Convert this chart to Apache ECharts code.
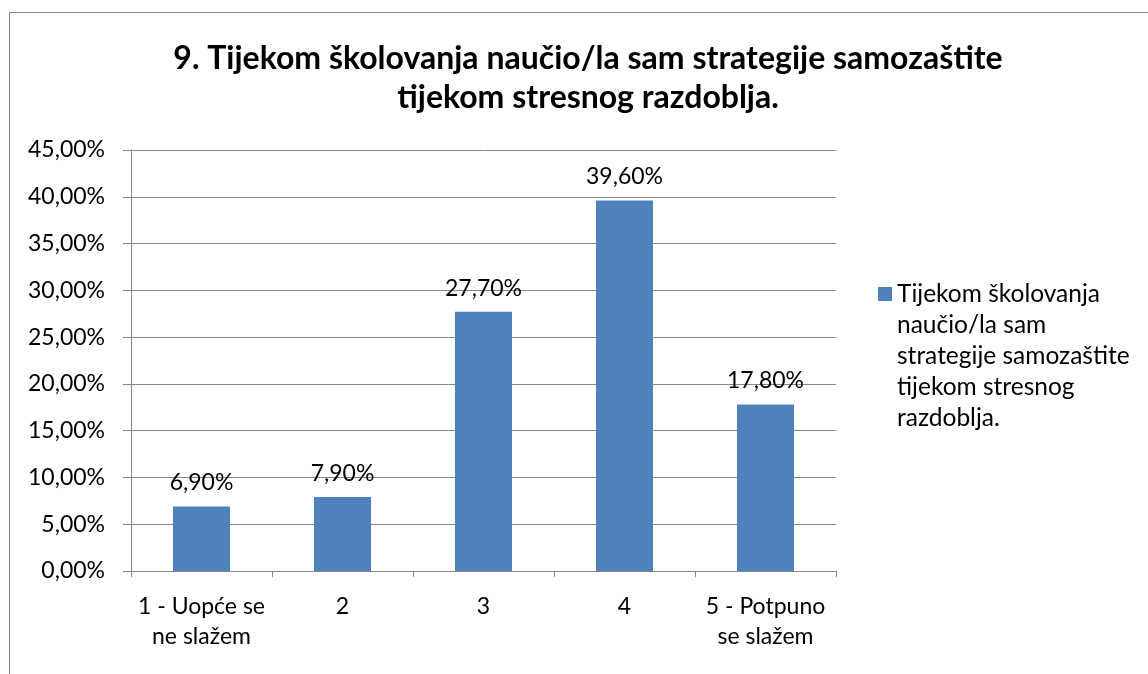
<!DOCTYPE html>
<html>
<head>
<meta charset="utf-8">
<script src="https://cdn.jsdelivr.net/npm/echarts@6/dist/echarts.min.js"></script>
<style>
html, body { margin: 0; padding: 0; background: #fff; }
#chart { width: 1148px; height: 674px; }
</style>
</head>
<body>
<div id="chart"></div>
<script>
var categories = ['1 - Uopće se\nne slažem', '2', '3', '4', '5 - Potpuno\nse slažem'];
var values = [6.9, 7.9, 27.7, 39.6, 17.8];
var seriesName = 'Tijekom školovanja naučio/la sam strategije samozaštite tijekom stresnog razdoblja.';
// legend text wrapped as in the picture; 4 empty lines up front keep the square next to line 1
var legendLines = ['Tijekom školovanja', 'naučio/la sam', 'strategije samozaštite', 'tijekom stresnog', 'razdoblja.'];
var titleText = '9. Tijekom školovanja naučio/la sam strategije samozaštite\ntijekom stresnog razdoblja.';

function pct(v) {
	return v.toFixed(2).replace('.', ',') + '%';
}

var myChart = echarts.init(document.getElementById('chart'));
var font = 'Lato';
var legendLH = 31;

var option = {
	animation: false,
	textStyle: { fontFamily: font },
	title: {
		text: titleText,
		left: 583,
		textAlign: 'center',
		top: 34,
		textStyle: {
			fontFamily: font,
			fontSize: 32,
			fontWeight: 'bold',
			color: '#000',
			lineHeight: 39
		}
	},
	legend: {
		left: 878,
		top: 294 - legendLH * 4.5,
		padding: 0,
		itemWidth: 14,
		itemHeight: 14,
		icon: 'rect',
		formatter: function() { return '\n\n\n\n' + legendLines.join('\n'); },
		textStyle: {
			fontFamily: font,
			fontSize: 24.5,
			lineHeight: legendLH,
			color: '#000'
		},
		data: [seriesName]
	},
	graphic: [
		{ type: 'line', shape: { x1: 9.5, y1: 12.5, x2: 1148, y2: 12.5 }, style: { stroke: '#868686', lineWidth: 1 } },
		{ type: 'line', shape: { x1: 9.5, y1: 12.5, x2: 9.5, y2: 674 }, style: { stroke: '#868686', lineWidth: 1 } }
	],
	grid: {
		left: 131,
		right: 312,
		top: 150,
		bottom: 103,
		containLabel: false
	},
	xAxis: {
		type: 'category',
		data: categories,
		axisLine: { lineStyle: { color: '#868686', width: 1 } },
		axisTick: { show: true, length: 6, alignWithLabel: false, lineStyle: { color: '#868686' } },
		axisLabel: {
			fontFamily: font,
			fontSize: 23,
			lineHeight: 30,
			color: '#000',
			margin: 21,
			interval: 0
		}
	},
	yAxis: {
		type: 'value',
		min: 0,
		max: 45,
		interval: 5,
		axisLine: { show: true, lineStyle: { color: '#868686', width: 1 } },
		axisTick: { show: true, length: 8, inside: false, lineStyle: { color: '#868686' } },
		splitLine: { lineStyle: { color: '#868686', width: 1 } },
		axisLabel: {
			fontFamily: font,
			fontSize: 23,
			color: '#000',
			margin: 26,
			formatter: function(v) { return pct(v); }
		}
	},
	series: [{
		name: seriesName,
		type: 'bar',
		data: values,
		barWidth: 57,
		itemStyle: { color: '#4F81BD' },
		label: {
			show: true,
			position: 'top',
			distance: 12,
			fontFamily: font,
			fontSize: 23,
			color: '#000',
			formatter: function(p) { return pct(p.value); }
		}
	}]
};

myChart.setOption(option);
window.addEventListener('resize', function() {
	myChart.resize();
});
</script>
</body>
</html>
